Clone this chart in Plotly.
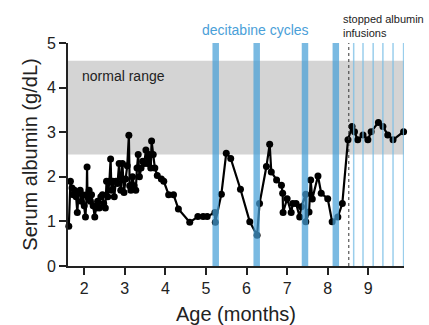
import plotly.graph_objects as go

# Serum albumin time series (age in months, g/dL)
age_months = [
    1.62, 1.66, 1.70, 1.73, 1.76, 1.80, 1.83, 1.86, 1.90, 1.93, 1.96, 2.00, 2.03, 2.06, 2.07,
    2.08, 2.12, 2.15, 2.18, 2.22, 2.26, 2.29, 2.33, 2.37, 2.41, 2.45, 2.48, 2.52, 2.55, 2.58,
    2.62, 2.65, 2.67, 2.70, 2.74, 2.78, 2.82, 2.86, 2.90, 2.94, 2.98, 3.02, 3.06, 3.10, 3.12,
    3.15, 3.19, 3.23, 3.27, 3.30, 3.33, 3.36, 3.40, 3.44, 3.48, 3.52, 3.56, 3.60, 3.64, 3.66,
    3.70, 3.74, 3.80, 3.90, 3.96, 4.08, 4.20, 4.32, 4.60, 4.80, 4.93, 5.03, 5.22, 5.23, 5.38,
    5.50, 5.61, 5.85, 6.08, 6.26, 6.32, 6.49, 6.57, 6.61, 6.74, 6.86, 6.89, 6.90, 7.00, 7.10,
    7.14, 7.22, 7.31, 7.35, 7.46, 7.46, 7.54, 7.58, 7.62, 7.76, 7.84, 8.00, 8.11, 8.25, 8.36,
    8.50, 8.60, 8.66, 8.74, 8.87, 8.99, 9.07, 9.25, 9.36, 9.48, 9.61, 9.87,
]
albumin = [
    0.89, 1.90, 1.75, 1.60, 1.70, 1.55, 1.20, 1.65, 1.70, 1.45, 1.60, 1.35, 1.10, 1.60, 2.22,
    1.55, 1.70, 1.45, 1.60, 1.35, 1.10, 1.30, 1.45, 1.30, 1.55, 1.60, 1.40, 1.30, 1.90, 1.55,
    1.90, 2.40, 1.70, 1.90, 1.55, 1.90, 1.85, 2.30, 1.70, 2.30, 1.65, 1.95, 2.25, 2.93, 1.80,
    1.70, 2.00, 1.80, 1.70, 2.20, 2.50, 2.00, 2.20, 2.35, 2.30, 2.60, 2.30, 2.50, 2.20, 2.80,
    2.50, 2.20, 2.03, 1.95, 1.90, 1.60, 1.60, 1.28, 0.98, 1.11, 1.11, 1.11, 1.20, 0.98, 1.61,
    2.53, 2.41, 1.72, 0.99, 0.69, 1.40, 2.23, 2.73, 2.11, 1.93, 1.81, 1.63, 1.20, 1.51, 1.20,
    1.40, 1.40, 1.10, 1.33, 1.61, 0.99, 1.21, 1.93, 1.50, 2.02, 1.63, 1.51, 0.99, 1.10, 1.40,
    2.83, 3.13, 3.01, 2.83, 2.94, 2.83, 3.01, 3.22, 3.13, 2.94, 2.83, 3.01,
]

normal_range = [2.5, 4.6]
decitabine_start = [5.16, 6.17, 7.36, 8.12]
decitabine_end = [5.32, 6.33, 7.52, 8.28]
stop_infusion = 8.52
infusion_marks = [8.64, 8.87, 9.12, 9.36, 9.61, 9.87]

x_range = [1.6, 9.88]
y_range = [0, 5]
x_ticks = [2, 3, 4, 5, 6, 7, 8, 9]
y_ticks = [0, 1, 2, 3, 4, 5]

FONT = "Liberation Sans, Arial, Helvetica, sans-serif"
BLUE = "rgba(70,160,215,0.72)"
LIGHTBLUE = "rgba(120,190,230,0.75)"

fig = go.Figure()
fig.add_trace(go.Scatter(
    x=age_months, y=albumin, mode="lines+markers",
    line=dict(color="black", width=2.2),
    marker=dict(color="black", size=7),
    cliponaxis=False, showlegend=False,
))

shapes = []
shapes.append(dict(type="rect", xref="x", yref="y", x0=x_range[0], x1=x_range[1],
                   y0=normal_range[0], y1=normal_range[1],
                   fillcolor="#d4d4d4", line=dict(width=0), layer="below"))
for a, b in zip(decitabine_start, decitabine_end):
    shapes.append(dict(type="rect", xref="x", yref="y", x0=a, x1=b, y0=0, y1=y_range[1],
                       fillcolor=BLUE, line=dict(width=0), layer="above"))
for m in infusion_marks:
    shapes.append(dict(type="line", xref="x", yref="y", x0=m, x1=m, y0=0, y1=y_range[1],
                       line=dict(color=LIGHTBLUE, width=1.5), layer="above"))
shapes.append(dict(type="line", xref="x", yref="y", x0=stop_infusion, x1=stop_infusion,
                   y0=0, y1=y_range[1], line=dict(color="#333333", width=1, dash="dot"),
                   layer="above"))

annotations = [
    dict(x=1.89, y=4.27, xref="x", yref="y", text="normal range", showarrow=False,
         xanchor="left", yanchor="middle", font=dict(family=FONT, size=14, color="#222222")),
    dict(x=6.22, y=1.058, xref="x", yref="paper", text="decitabine cycles", showarrow=False,
         xanchor="center", yanchor="middle", font=dict(family=FONT, size=14, color="#4aa0d8")),
    dict(x=8.33, y=1.076, xref="x", yref="paper", text="stopped albumin<br>infusions",
         showarrow=False, xanchor="left", yanchor="middle", align="left",
         font=dict(family=FONT, size=11, color="#222222")),
]

fig.update_layout(
    width=429, height=325,
    margin=dict(l=68, r=25, t=43, b=59),
    paper_bgcolor="white", plot_bgcolor="white",
    font=dict(family=FONT, size=16, color="#222222"),
    shapes=shapes, annotations=annotations,
    xaxis=dict(range=x_range, tickvals=x_ticks, ticks="outside", ticklen=7, tickwidth=2,
               tickcolor="#222222", showline=True, linecolor="#222222", linewidth=2,
               showgrid=False, zeroline=False, automargin=False,
               title=dict(text="Age (months)", font=dict(size=20)),
               tickfont=dict(size=16)),
    yaxis=dict(range=y_range, tickvals=y_ticks, ticks="outside", ticklen=7, tickwidth=2,
               tickcolor="#222222", showline=True, linecolor="#222222", linewidth=2,
               showgrid=False, zeroline=False,
               title=dict(text="Serum albumin (g/dL)", font=dict(size=20), standoff=4),
               tickfont=dict(size=16)),
)

fig.write_html("out.html")
